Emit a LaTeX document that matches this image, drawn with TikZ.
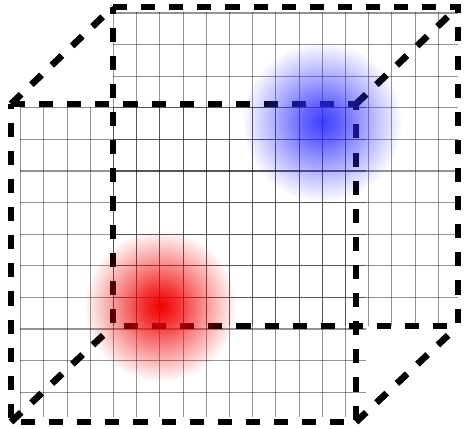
\documentclass[tikz,border=0pt]{standalone}
\usetikzlibrary{fadings}
\definecolor{cred}{HTML}{F00000}
\definecolor{cblue}{HTML}{2A2AFF}
\pgfdeclareradialshading{blobmask}{\pgfpointorigin}{color(0bp)=(white); color(6bp)=(white!80!black); color(14bp)=(white!45!black); color(25bp)=(black); color(50bp)=(black)}
\pgfdeclarefading{blobfade}{\pgfuseshading{blobmask}}
\tikzset{
  edge/.style={draw=black, line width=3.8pt, dash pattern=on 8pt off 8pt},
  gridline/.style={draw=black, line width=0.6pt, opacity=0.42},
  blob/.style={fill=#1, path fading=blobfade},
}

\begin{document}
\begin{tikzpicture}[x=0.02cm, y=-0.02cm]
  \useasboundingbox (0,0) rectangle (464,429);
  % cube corners
  \coordinate (f1) at (11,104);
  \coordinate (f2) at (356,104);
  \coordinate (f3) at (356,422);
  \coordinate (f4) at (11,422);
  \coordinate (b1) at (113,7);
  \coordinate (b2) at (458,7);
  \coordinate (b3) at (458,326);
  \coordinate (b4) at (113,326);
  % back grid
  \begin{scope}
    \clip (113,13) rectangle (458,326);
    \foreach \i in {0,...,19} \draw[gridline] ({20.7+23.2*\i},0) -- ++(0,429);
    \foreach \j in {0,...,13} \draw[gridline] (0,{13+31.6*\j}) -- ++(464,0);
  \end{scope}
  % front grid
  \begin{scope}
    \clip (20.2,107.5) rectangle (366,417);
    \foreach \i in {0,...,19} \draw[gridline] ({20.7+23.2*\i},0) -- ++(0,429);
    \foreach \j in {0,...,13} \draw[gridline] (0,{13+31.6*\j}) -- ++(464,0);
  \end{scope}
  % dashed edges
  \draw[edge] (b1) -- (b2) -- (b3) -- (b4) -- cycle;
  \draw[edge] (f1) -- (f2) -- (f3) -- (f4) -- cycle;
  \draw[edge] (f1) -- (b1);
  \draw[edge] (f2) -- (b2);
  \draw[edge] (f3) -- (b3);
  \draw[edge] (f4) -- (b4);
  % blobs
  \fill[blob=cred] (160,306) circle (76);
  \fill[blob=cblue, opacity=0.9] (322,122) circle (80);
\end{tikzpicture}
\end{document}
